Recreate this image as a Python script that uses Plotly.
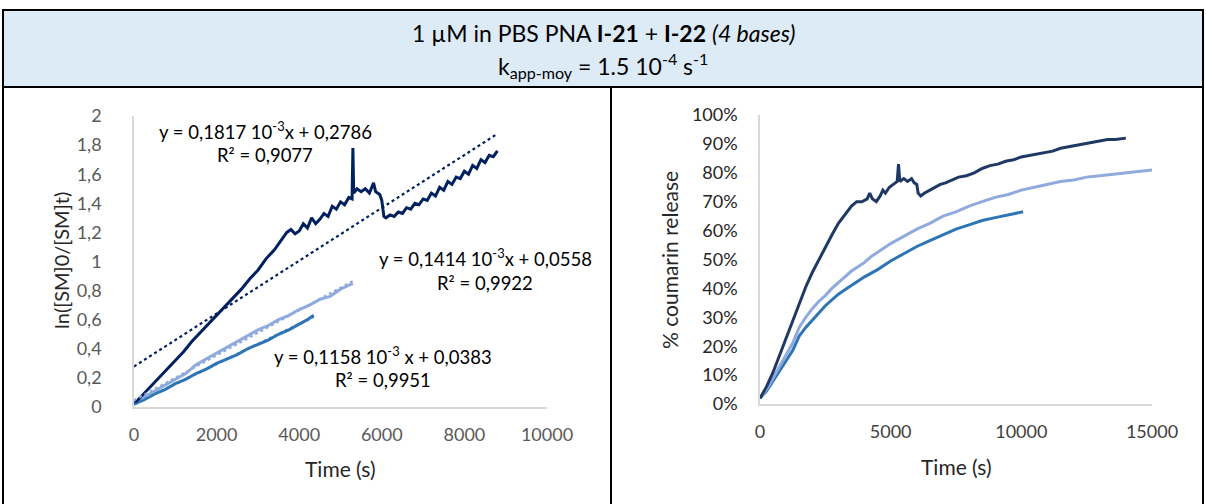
import numpy as np
import plotly.graph_objects as go

# ---------------- data : left chart (ln([SM]0/[SM]t) vs time) ----------------
L_dark_t = [0, 200, 400, 600, 800, 1000, 1200, 1400, 1600, 1800, 2000, 2200, 2400, 2600, 2800,
            3000, 3200, 3400, 3600, 3700, 3800, 3900, 4000, 4100, 4200, 4300, 4400, 4500, 4600,
            4700, 4800, 4900, 5000, 5100, 5200, 5280, 5300, 5320, 5400, 5500, 5600, 5700, 5800,
            5850, 5950, 6000, 6050, 6100, 6200, 6300, 6400, 6500, 6600, 6700, 6800, 6900, 7000,
            7100, 7200, 7300, 7400, 7500, 7600, 7700, 7800, 7900, 8000, 8100, 8200, 8300, 8400,
            8500, 8600, 8700, 8800]
L_dark_y = [0.02, 0.08, 0.14, 0.20, 0.26, 0.32, 0.38, 0.45, 0.51, 0.57, 0.63, 0.69, 0.75, 0.81, 0.88,
            0.94, 1.02, 1.08, 1.16, 1.20, 1.22, 1.19, 1.21, 1.26, 1.23, 1.30, 1.26, 1.29, 1.33,
            1.31, 1.38, 1.36, 1.41, 1.39, 1.44, 1.43, 1.78, 1.47, 1.50, 1.48, 1.50, 1.47, 1.54,
            1.48, 1.46, 1.42, 1.31, 1.30, 1.32, 1.31, 1.34, 1.33, 1.37, 1.36, 1.40, 1.39, 1.43,
            1.42, 1.47, 1.45, 1.51, 1.49, 1.55, 1.53, 1.58, 1.57, 1.62, 1.60, 1.66, 1.64, 1.70,
            1.68, 1.73, 1.72, 1.76]

L_light_t = [0, 250, 500, 750, 1000, 1250, 1500, 1750, 2000, 2250, 2500, 2750, 3000, 3250, 3500,
             3750, 4000, 4250, 4500, 4750, 5000, 5150, 5300]
L_light_y = [0.03, 0.07, 0.11, 0.15, 0.19, 0.23, 0.29, 0.33, 0.37, 0.41, 0.45, 0.49, 0.53, 0.56, 0.60,
             0.63, 0.67, 0.70, 0.74, 0.76, 0.81, 0.83, 0.85]

L_mid_t = [0, 250, 500, 750, 1000, 1250, 1500, 1750, 2000, 2250, 2500, 2750, 3000, 3250, 3500,
           3750, 4000, 4200, 4350]
L_mid_y = [0.02, 0.05, 0.09, 0.12, 0.16, 0.19, 0.23, 0.26, 0.30, 0.33, 0.36, 0.40, 0.43, 0.46, 0.50,
           0.53, 0.57, 0.60, 0.63]

# fit of the dark series as written on the chart
dark_fit_slope = 0.1817e-3
dark_fit_intercept = 0.2786

L_x_tickvals = [0, 2000, 4000, 6000, 8000, 10000]
L_x_ticktext = ["0", "2000", "4000", "6000", "8000", "10000"]
L_y_tickvals = [0, 0.2, 0.4, 0.6, 0.8, 1.0, 1.2, 1.4, 1.6, 1.8, 2.0]
L_y_ticktext = ["0", "0,2", "0,4", "0,6", "0,8", "1", "1,2", "1,4", "1,6", "1,8", "2"]

# ---------------- data : right chart (% coumarin release vs time) ----------------
R_dark_t = [0, 250, 500, 750, 1000, 1250, 1500, 1750, 2000, 2250, 2500, 2750, 3000, 3250, 3500,
            3700, 3900, 4100, 4200, 4300, 4450, 4600, 4700, 4800, 4950, 5100, 5250, 5300, 5350,
            5500, 5650, 5800, 5900, 6000, 6050, 6150, 6300, 6500, 6700, 6900, 7100, 7350, 7600,
            7900, 8200, 8500, 8800, 9100, 9400, 9700, 10000, 10300, 10600, 10900, 11200, 11500,
            11800, 12100, 12400, 12700, 13000, 13300, 13600, 14000]
R_dark_y = [0.02, 0.06, 0.11, 0.17, 0.225, 0.285, 0.35, 0.405, 0.455, 0.50, 0.545, 0.585, 0.625, 0.655, 0.685,
            0.70, 0.70, 0.71, 0.73, 0.71, 0.70, 0.72, 0.74, 0.73, 0.75, 0.76, 0.77, 0.83, 0.77,
            0.78, 0.77, 0.78, 0.765, 0.76, 0.73, 0.72, 0.73, 0.74, 0.75, 0.76, 0.765, 0.775, 0.785,
            0.79, 0.80, 0.815, 0.825, 0.83, 0.84, 0.845, 0.855, 0.86, 0.865, 0.87, 0.875, 0.885,
            0.89, 0.895, 0.90, 0.905, 0.91, 0.915, 0.915, 0.92]

R_light_t = [0, 250, 500, 750, 1000, 1250, 1500, 1750, 2000, 2250, 2500, 2750, 3000, 3250, 3500,
             3750, 4000, 4250, 4500, 5000, 5500, 6000, 6500, 7000, 7500, 8000, 8500, 9000, 9500,
             10000, 10500, 11000, 11500, 12000, 12500, 13000, 13500, 14000, 14500, 15000]
R_light_y = [0.02, 0.05, 0.09, 0.13, 0.17, 0.21, 0.265, 0.30, 0.33, 0.355, 0.375, 0.40, 0.42, 0.44, 0.46,
             0.475, 0.49, 0.51, 0.525, 0.555, 0.58, 0.605, 0.625, 0.65, 0.665, 0.685, 0.70, 0.715, 0.725,
             0.74, 0.75, 0.76, 0.77, 0.775, 0.785, 0.79, 0.795, 0.80, 0.805, 0.81]

R_mid_t = [0, 250, 500, 750, 1000, 1250, 1500, 1750, 2000, 2250, 2500, 2750, 3000, 3250, 3500,
           3750, 4000, 4500, 5000, 5500, 6000, 6500, 7000, 7500, 8000, 8500, 9000, 9500, 10070]
R_mid_y = [0.02, 0.045, 0.08, 0.115, 0.15, 0.185, 0.235, 0.265, 0.29, 0.315, 0.34, 0.36, 0.38, 0.395, 0.41,
           0.425, 0.44, 0.465, 0.495, 0.52, 0.545, 0.565, 0.585, 0.605, 0.62, 0.635, 0.645, 0.655, 0.665]

R_x_tickvals = [0, 5000, 10000, 15000]
R_x_ticktext = ["0", "5000", "10000", "15000"]
R_y_tickvals = [0, 0.1, 0.2, 0.3, 0.4, 0.5, 0.6, 0.7, 0.8, 0.9, 1.0]
R_y_ticktext = ["0%", "10%", "20%", "30%", "40%", "50%", "60%", "70%", "80%", "90%", "100%"]

# ---------------- styles ----------------
W, H = 1206, 504
FONT = "Lato"
C_DARK_L = "#002060"
C_DARK_R = "#1F3864"
C_LIGHT = "#8FAADC"
C_MID = "#2E75B6"


def px(x):
    return x / W


def py(y):
    return 1 - y / H


fig = go.Figure()

# left chart traces
fig.add_trace(go.Scatter(x=L_mid_t, y=L_mid_y, mode="lines", line=dict(color=C_MID, width=3),
                         xaxis="x", yaxis="y", showlegend=False))
fig.add_trace(go.Scatter(x=L_light_t, y=L_light_y, mode="lines", line=dict(color=C_LIGHT, width=3),
                         xaxis="x", yaxis="y", showlegend=False))
fig.add_trace(go.Scatter(x=L_dark_t, y=L_dark_y, mode="lines", line=dict(color=C_DARK_L, width=3),
                         xaxis="x", yaxis="y", showlegend=False))

# trend lines
xd = np.array([0, L_dark_t[-1]])
fig.add_trace(go.Scatter(x=xd, y=dark_fit_slope * xd + dark_fit_intercept, mode="lines",
                         line=dict(color=C_DARK_L, width=2.2, dash="dot"),
                         xaxis="x", yaxis="y", showlegend=False))
pl = np.polyfit(L_light_t, L_light_y, 1)
xl = np.array([0, L_light_t[-1]])
fig.add_trace(go.Scatter(x=xl, y=np.polyval(pl, xl), mode="lines",
                         line=dict(color=C_LIGHT, width=2.2, dash="dot"),
                         xaxis="x", yaxis="y", showlegend=False))
pm = np.polyfit(L_mid_t, L_mid_y, 1)
xm = np.array([0, L_mid_t[-1]])
fig.add_trace(go.Scatter(x=xm, y=np.polyval(pm, xm), mode="lines",
                         line=dict(color=C_MID, width=2.2, dash="dot"),
                         xaxis="x", yaxis="y", showlegend=False))

# right chart traces
fig.add_trace(go.Scatter(x=R_mid_t, y=R_mid_y, mode="lines", line=dict(color=C_MID, width=3),
                         xaxis="x2", yaxis="y2", showlegend=False))
fig.add_trace(go.Scatter(x=R_light_t, y=R_light_y, mode="lines", line=dict(color=C_LIGHT, width=3),
                         xaxis="x2", yaxis="y2", showlegend=False))
fig.add_trace(go.Scatter(x=R_dark_t, y=R_dark_y, mode="lines", line=dict(color=C_DARK_R, width=3),
                         xaxis="x2", yaxis="y2", showlegend=False))

axis_common = dict(showgrid=False, zeroline=False, showline=True, linecolor="#D9D9D9", linewidth=1.5,
                   ticks="", tickmode="array", fixedrange=True)

fig.update_layout(
    autosize=True,
    margin=dict(l=0, r=0, t=0, b=0, autoexpand=False),
    paper_bgcolor="white", plot_bgcolor="white",
    font=dict(family=FONT, color="#000000"),
    xaxis=dict(domain=[px(134), px(547)], range=[0, 10000], anchor="y",
               tickvals=L_x_tickvals, ticktext=L_x_ticktext, ticklabelstandoff=11,
               tickfont=dict(size=18, color="#595959", family=FONT), **axis_common),
    yaxis=dict(domain=[py(407), py(116)], range=[0, 2], anchor="x",
               tickvals=L_y_tickvals, ticktext=L_y_ticktext, ticklabelstandoff=27,
               tickfont=dict(size=18, color="#595959", family=FONT), **axis_common),
    xaxis2=dict(domain=[px(760), px(1152)], range=[0, 15000], anchor="y2",
                tickvals=R_x_tickvals, ticktext=R_x_ticktext, ticklabelstandoff=11,
                tickfont=dict(size=18, color="#404040", family=FONT), **axis_common),
    yaxis2=dict(domain=[py(404), py(115)], range=[0, 1], anchor="x2",
                tickvals=R_y_tickvals, ticktext=R_y_ticktext, ticklabelstandoff=17,
                tickfont=dict(size=18, color="#262626", family=FONT), **axis_common),
)

# table frame
shapes = [
    dict(type="rect", xref="paper", yref="paper", x0=px(3), x1=px(1203), y0=py(87), y1=py(10),
         fillcolor="#DDEBF7", line=dict(color="black", width=2), layer="below"),
    dict(type="line", xref="paper", yref="paper", x0=px(3), x1=px(3), y0=py(87), y1=0,
         line=dict(color="black", width=2)),
    dict(type="line", xref="paper", yref="paper", x0=px(1203), x1=px(1203), y0=py(87), y1=0,
         line=dict(color="black", width=2)),
    dict(type="line", xref="paper", yref="paper", x0=px(611), x1=px(611), y0=py(87), y1=0,
         line=dict(color="black", width=2)),
]
fig.update_layout(shapes=shapes)

ann = []


def add_text(x, y, text, size, color="#000000", angle=0):
    ann.append(dict(xref="paper", yref="paper", x=px(x), y=py(y), text=text, showarrow=False,
                    xanchor="center", yanchor="middle", textangle=angle,
                    font=dict(size=size, color=color, family=FONT)))


add_text(603, 33, "1 µM in PBS PNA <b>I-21</b> + <b>I-22</b> <i>(4 bases)</i>", 23)
add_text(603, 65, "k<sub>app-moy</sub> = 1.5 10<sup>-4</sup> s<sup>-1</sup>", 23)

add_text(265, 130, "y = 0,1817 10<sup>-3</sup>x + 0,2786", 18.5)
add_text(265, 155, "R² = 0,9077", 18.5)
add_text(485, 257, "y = 0,1414 10<sup>-3</sup>x + 0,0558", 18.5)
add_text(485, 283, "R² = 0,9922", 18.5)
add_text(383, 355, "y = 0,1158 10<sup>-3</sup> x + 0,0383", 18.5)
add_text(383, 380, "R² = 0,9951", 18.5)

add_text(61, 261, "ln([SM]0/[SM]t)", 20, "#262626", -90)
add_text(340, 468, "Time (s)", 21, "#262626")
add_text(669, 260, "% coumarin release", 21, "#262626", -90)
add_text(956, 466, "Time (s)", 21, "#262626")

fig.update_layout(annotations=ann)

# the graph div is pinned to the page corner with the exact window size
fig.write_html("out.html", config={"displayModeBar": False},
               default_width=f"{W}px",
               default_height=f"{H}px; position:absolute; left:0; top:0; margin:0")
